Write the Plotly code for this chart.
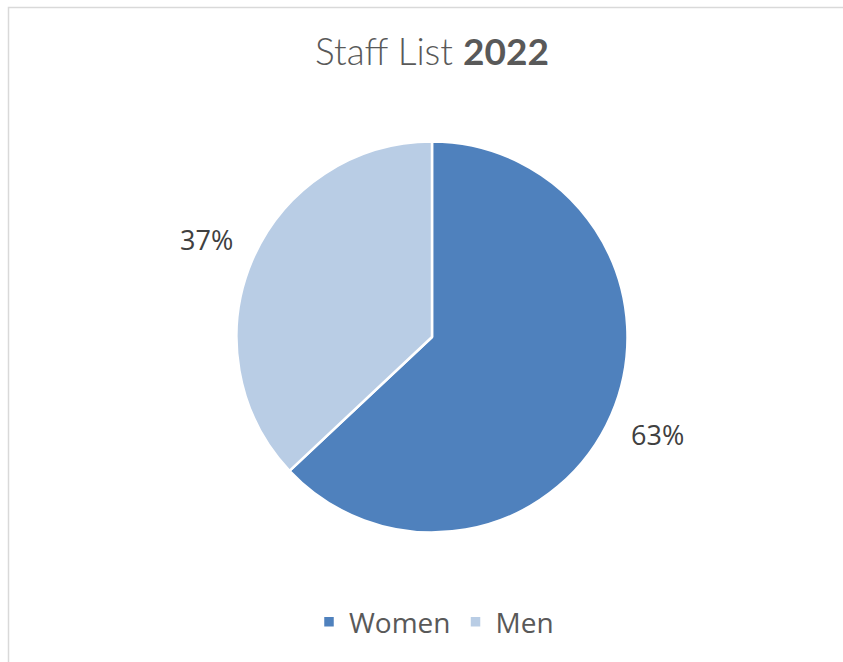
import numpy as np
import plotly.graph_objects as go

labels = ["Women", "Men"]
values = [63, 37]
colors = ["#4F81BD", "#B9CDE5"]

W, H = 843, 662
cx, cy, R = 432, 337, 195.5

fig = go.Figure(go.Pie(
    labels=labels, values=values, sort=False, direction="clockwise", rotation=0,
    marker=dict(colors=colors, line=dict(color="white", width=2.5)),
    textinfo="none", hoverinfo="label+percent",
    domain=dict(x=[(cx - R) / W, (cx + R) / W], y=[1 - (cy + R) / H, 1 - (cy - R) / H]),
))

# percentage labels placed outside each slice, from the data
vals = np.array(values, dtype=float)
frac = vals / vals.sum()
cum = np.cumsum(frac) - frac / 2
annotations = []
for f, c in zip(frac, cum):
    ang = 2 * np.pi * c
    rr = R * 1.255
    px = cx + rr * np.sin(ang)
    py = cy - rr * np.cos(ang)
    annotations.append(dict(
        x=px / W, y=1 - py / H, xref="paper", yref="paper",
        text=f"{round(f * 100)}%", showarrow=False,
        font=dict(family="Open Sans", size=27, color="#404040"),
        xanchor="center", yanchor="middle",
    ))

fig.update_layout(
    width=W, height=H,
    margin=dict(l=0, r=0, t=0, b=0),
    paper_bgcolor="white", plot_bgcolor="white",
    title=dict(text="Staff List <b>2022</b>", x=432 / W, xanchor="center",
               y=1 - 52 / H, yanchor="middle",
               font=dict(family="Lato", size=37, color="#595959", weight=300)),
    legend=dict(orientation="h", x=434 / W, xanchor="center", y=1 - 622 / H, yanchor="middle",
                font=dict(family="Open Sans", size=28, color="#595959"),
                itemwidth=30, traceorder="normal"),
    annotations=annotations,
    shapes=[dict(type="rect", xref="paper", yref="paper",
                 x0=8.5 / W, y0=-0.05, x1=1.05, y1=1 - 7.5 / H,
                 line=dict(color="#D9D9D9", width=1.5), fillcolor="rgba(0,0,0,0)")],
)

fig.write_html("out.html")
